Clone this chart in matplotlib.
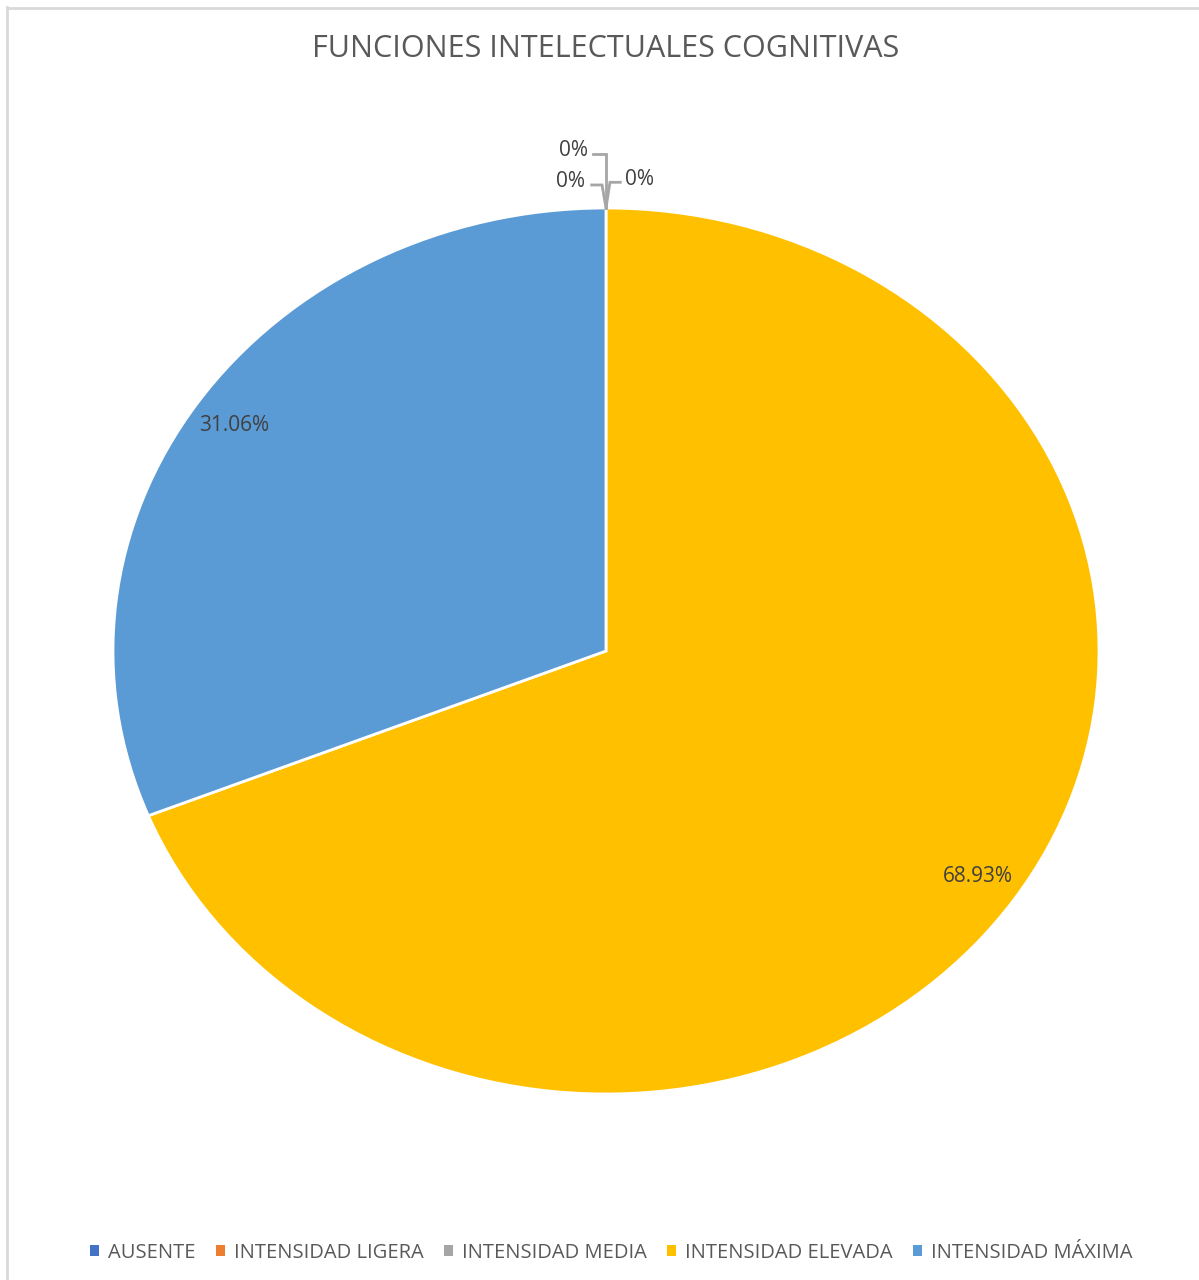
import matplotlib
matplotlib.use("Agg")
import matplotlib.pyplot as plt
from matplotlib.patches import Patch
from matplotlib.lines import Line2D

categories = ["AUSENTE", "INTENSIDAD LIGERA", "INTENSIDAD MEDIA",
              "INTENSIDAD ELEVADA", "INTENSIDAD MÁXIMA"]
values = [0.0, 0.0, 0.0, 68.93, 31.06]
colors = ["#4472C4", "#ED7D31", "#A5A5A5", "#FFC000", "#5B9BD5"]
title = "FUNCIONES INTELECTUALES COGNITIVAS"

FONT = ["Open Sans", "DejaVu Sans"]
W, H = 1199, 1280
fig = plt.figure(figsize=(W / 100, H / 100), dpi=100)
fig.patch.set_facecolor("white")

# chart frame: only the top and left edges are visible
fig.add_artist(Line2D([7 / W, 7 / W], [0, 1 - 7 / H], transform=fig.transFigure,
                      color="#d9d9d9", lw=2))
fig.add_artist(Line2D([7 / W, 1.01], [1 - 8 / H, 1 - 8 / H], transform=fig.transFigure,
                      color="#d9d9d9", lw=2))

# plot area: slightly wider than tall, so the pie is an ellipse
cx, cy, rx, ry = 606, 651, 493, 443
ax = fig.add_axes([(cx - rx) / W, 1 - (cy + ry) / H, 2 * rx / W, 2 * ry / H])

labels = [f"{v:.2f}%" if v > 0 else "" for v in values]
wedges, texts = ax.pie(values, colors=colors, startangle=90, counterclock=False,
                       labels=labels, labeldistance=0.91,
                       wedgeprops=dict(edgecolor="white", linewidth=2),
                       textprops=dict(color="#404040", fontsize=15, family=FONT))
for t in texts:
    t.set_horizontalalignment("center")
    t.set_verticalalignment("center")
ax.set_aspect("auto")
ax.set_xlim(-1, 1)
ax.set_ylim(-1, 1)
ax.axis("off")

# zero-valued slices: labels with leader lines to the top of the pie
zero_labels = [
    # (text x, text y, ha, leader path)
    (-0.036, 1.129, "right", [(-0.027, 1.122), (0.0, 1.122), (0.0, 1.0)]),
    (-0.042, 1.059, "right", [(-0.029, 1.052), (-0.008, 1.052), (0.0, 1.0)]),
    (0.039, 1.065, "left", [(0.029, 1.058), (0.008, 1.058), (0.0, 1.0)]),
]
zero_idx = [i for i, v in enumerate(values) if v == 0]
for i, (tx, ty, ha, path) in zip(zero_idx, zero_labels):
    xs, ys = zip(*path)
    ax.plot(xs, ys, color="#a6a6a6", lw=2, clip_on=False, solid_joinstyle="miter")
    ax.text(tx, ty, f"{values[i]:.0f}%", ha=ha, va="center", color="#404040",
            fontsize=15, family=FONT, clip_on=False)

fig.text(606 / W, 1 - 49 / H, title, ha="center", va="center", color="#595959",
         fontsize=22, family=FONT)

handles = [Patch(facecolor=c, edgecolor="none") for c in colors]
leg = fig.legend(handles, categories, loc="center", bbox_to_anchor=(611 / W, 1 - 1253 / H),
                 ncol=5, frameon=False, handlelength=0.45, handleheight=0.45,
                 handletextpad=0.45, columnspacing=1.0,
                 prop=dict(family=FONT, size=14.5))
for t in leg.get_texts():
    t.set_color("#595959")

fig.savefig("out.png", dpi=100, facecolor="white")
